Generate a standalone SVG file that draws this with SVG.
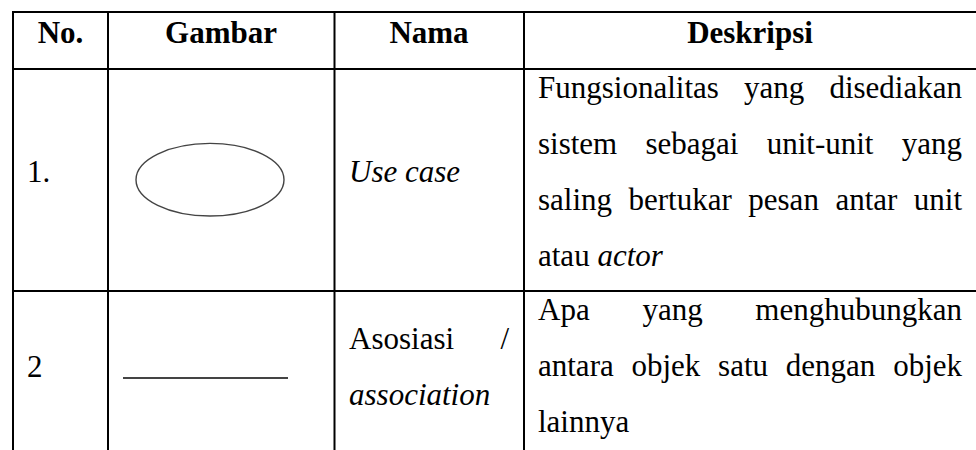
<svg xmlns="http://www.w3.org/2000/svg" width="976" height="450" viewBox="0 0 976 450">
<style>
.g{stroke:#000;stroke-width:2;fill:none}
.t{font-family:"Liberation Serif","Times New Roman",serif;font-size:31px;fill:#000}
.h{font-weight:bold;text-anchor:middle}
.i{font-style:italic}
.e{text-anchor:end}
.sym{stroke:#444;fill:none}
</style>
<rect width="976" height="450" fill="#fff"/>
<g id="grid">
<line class="g" x1="12" y1="12" x2="976" y2="12"/>
<line class="g" x1="13" y1="69" x2="976" y2="69"/>
<line class="g" x1="13" y1="291" x2="976" y2="291"/>
<line class="g" x1="13" y1="11" x2="13" y2="450"/>
<line class="g" x1="108" y1="11" x2="108" y2="450"/>
<line class="g" x1="334.5" y1="11" x2="334.5" y2="450"/>
<line class="g" x1="524" y1="11" x2="524" y2="450"/>
</g>
<g id="header">
<text class="t h" x="60.5" y="43">No.</text>
<text class="t h" x="221" y="43">Gambar</text>
<text class="t h" x="429" y="43">Nama</text>
<text class="t h" x="750" y="43">Deskripsi</text>
</g>
<g id="row1">
<text class="t" x="27" y="182">1.</text>
<ellipse class="sym" stroke-width="1.4" cx="210" cy="179.7" rx="74" ry="36.3"/>
<text class="t i" x="349" y="182">Use case</text>
<text class="t" x="538" y="97.5">Fungsionalitas</text>
<text class="t" x="744" y="97.5">yang</text>
<text class="t e" x="962" y="97.5">disediakan</text>
<text class="t" x="538" y="153.5">sistem</text>
<text class="t" x="645.5" y="153.5">sebagai</text>
<text class="t" x="766.7" y="153.5">unit-unit</text>
<text class="t e" x="962" y="153.5">yang</text>
<text class="t" x="538" y="209.5">saling</text>
<text class="t" x="628.5" y="209.5">bertukar</text>
<text class="t" x="748.3" y="209.5">pesan</text>
<text class="t" x="835.4" y="209.5">antar</text>
<text class="t e" x="962" y="209.5">unit</text>
<text class="t" x="538" y="265.5">atau <tspan class="i">actor</tspan></text>
</g>
<g id="row2">
<text class="t" x="27" y="377">2</text>
<line class="sym" stroke-width="1.8" x1="123" y1="378" x2="288" y2="378"/>
<text class="t" x="349" y="349">Asosiasi</text>
<text class="t e" x="509" y="349">/</text>
<text class="t i" x="349" y="405">association</text>
<text class="t" x="538" y="319.5">Apa</text>
<text class="t" x="642.4" y="319.5">yang</text>
<text class="t e" x="962" y="319.5">menghubungkan</text>
<text class="t" x="538" y="375.5">antara</text>
<text class="t" x="631.5" y="375.5">objek</text>
<text class="t" x="718.1" y="375.5">satu</text>
<text class="t" x="785.8" y="375.5">dengan</text>
<text class="t e" x="962" y="375.5">objek</text>
<text class="t" x="538" y="431.5">lainnya</text>
</g>
</svg>
